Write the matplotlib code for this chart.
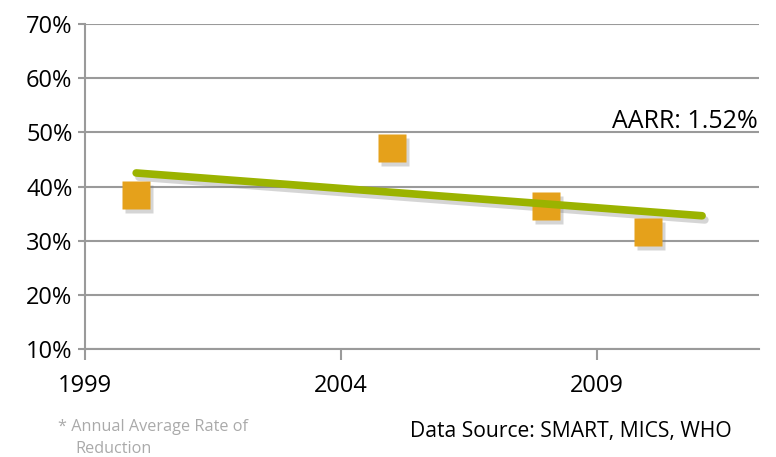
import matplotlib.pyplot as plt
import matplotlib.transforms as mtransforms
from matplotlib.ticker import FuncFormatter

years = [2000, 2005, 2008, 2010]
values = [38.5, 47.1, 36.4, 31.6]
trend_years = [2000, 2011.05]
trend_values = [42.5, 34.6]
xticks = [1999, 2004, 2009]
yticks = [10, 20, 30, 40, 50, 60, 70]

plt.rcParams["font.family"] = ["Open Sans", "DejaVu Sans"]

fig = plt.figure(figsize=(7.76, 4.57), dpi=100)
ax = fig.add_axes([0.1095, 0.2363, 0.8685, 0.7112])

grid_c = "#9a9a9a"
# soft drop shadow: same marks, shifted down-right, faint grey
shadow_tr = mtransforms.offset_copy(ax.transData, fig=fig, x=2, y=-3, units="points")

ax.plot(years, values, ls="none", marker="s", ms=20, mfc="#777777", mec="none",
        alpha=0.3, transform=shadow_tr, zorder=2)
ax.plot(trend_years, trend_values, color="#777777", lw=5.5, alpha=0.3,
        solid_capstyle="round", transform=shadow_tr, zorder=2)

ax.plot(years, values, ls="none", marker="s", ms=20, mfc="#e5a11b", mec="none", zorder=3)
ax.plot(trend_years, trend_values, color="#9bb300", lw=5.5, solid_capstyle="round", zorder=4)

ax.set_xlim(1999, 2012.16)
ax.set_ylim(10, 70)
ax.set_xticks(xticks)
ax.set_yticks(yticks)
ax.yaxis.set_major_formatter(FuncFormatter(lambda v, p: f"{v:.0f}%"))
ax.grid(axis="y", color=grid_c, lw=1.5)
ax.set_axisbelow(True)

for s in ["top", "right"]:
    ax.spines[s].set_visible(False)
for s in ["left", "bottom"]:
    ax.spines[s].set_color(grid_c)
    ax.spines[s].set_linewidth(1.5)

ax.tick_params(axis="y", length=5, width=1.5, color=grid_c, labelsize=17, pad=4)
ax.tick_params(axis="x", length=8, width=1.5, color=grid_c, labelsize=17, pad=10)

ax.text(0.998, 0.70, "AARR: 1.52%", transform=ax.transAxes, ha="right", va="center",
        fontsize=18, color="black")

fig.text(58 / 776, 1 - 427 / 457, "* Annual Average Rate of", fontsize=11.7,
         color="#aaaaaa", va="center")
fig.text(75 / 776, 1 - 449 / 457, "Reduction", fontsize=11.7, color="#aaaaaa", va="center")
fig.text(410 / 776, 1 - 432 / 457, "Data Source: SMART, MICS, WHO", fontsize=15.2,
         color="black", va="center")

fig.savefig("out.png", dpi=100)
